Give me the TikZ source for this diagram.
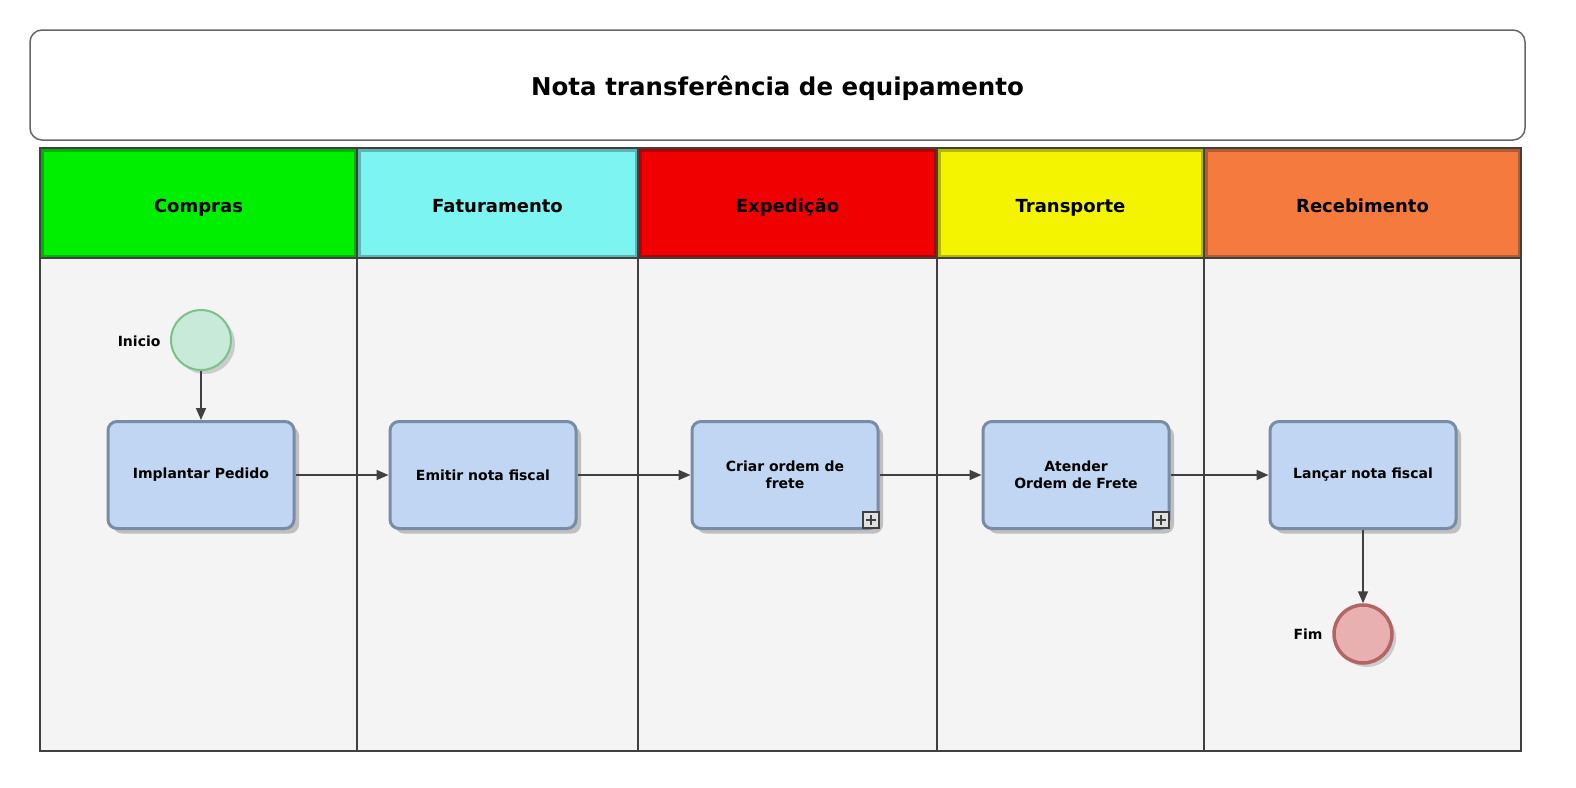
\documentclass[tikz,border=0pt]{standalone}
\usepackage{fontspec}
\setmainfont{DejaVu Sans}
\usetikzlibrary{arrows.meta,shadows}

\definecolor{lanebg}{HTML}{F4F4F4}
\definecolor{linegray}{HTML}{404040}
\definecolor{hdgreen}{HTML}{00EE00}
\definecolor{hdcyan}{HTML}{7CF4F2}
\definecolor{hdred}{HTML}{F00000}
\definecolor{hdyellow}{HTML}{F4F400}
\definecolor{hdorange}{HTML}{F47A3E}
\definecolor{taskfill}{HTML}{C0D6F2}
\definecolor{taskedge}{HTML}{7A8CA4}
\definecolor{startfill}{HTML}{C8EAD8}
\definecolor{startedge}{HTML}{7CC08C}
\definecolor{endfill}{HTML}{E8B0B0}
\definecolor{endedge}{HTML}{B46464}

\tikzset{
  lanehead/.style={draw=linegray,line width=2pt,minimum width=#1,minimum height=110pt,
    font=\bfseries\fontsize{18}{21}\selectfont,inner sep=0pt,text height=23pt,text depth=3.6pt,
    path picture={\draw[black,opacity=0.25,line width=7pt]
      (path picture bounding box.south west) rectangle (path picture bounding box.north east);}},
  task/.style={rounded corners=9pt,fill=taskfill,draw=taskedge,line width=3pt,
    minimum width=186pt,minimum height=107pt,align=center,
    font=\bfseries\fontsize{14}{17}\selectfont,
    drop shadow={shadow xshift=5pt,shadow yshift=-5pt,fill=black!25,opacity=1}},
  startev/.style={circle,fill=startfill,draw=startedge,line width=2pt,minimum size=60pt,
    drop shadow={shadow xshift=4pt,shadow yshift=-4pt,fill=black!20,opacity=1}},
  endev/.style={circle,fill=endfill,draw=endedge,line width=3.5pt,minimum size=58pt,
    drop shadow={shadow xshift=4pt,shadow yshift=-4pt,fill=black!20,opacity=1}},
  evlabel/.style={font=\bfseries\fontsize{14}{16}\selectfont,anchor=east},
  flow/.style={draw=linegray,line width=1.6pt,-{Triangle[length=12pt,width=10pt]}},
  submark/.style={draw=linegray,fill=black!12,line width=1.2pt,minimum size=16pt,inner sep=0pt,
    path picture={\draw[linegray,line width=1.2pt]
      (path picture bounding box.north) ++(0,-3pt) -- ++(0,-10pt)
      (path picture bounding box.west) ++(3pt,0) -- ++(10pt,0);}}
}

\begin{document}
\begin{tikzpicture}[x=1pt,y=-1pt]
\useasboundingbox (0,0) rectangle (1576,787);

% title
\draw[linegray!80,line width=1.5pt,rounded corners=12pt,fill=white] (30,30) rectangle (1525,140);
\node (title) at (777.5,88) {\bfseries\fontsize{24.5}{29}\selectfont Nota transferência de equipamento};

% pool
\draw[linegray,line width=2pt,fill=lanebg] (40,258) rectangle (1521,751);
\foreach \x in {357,638,937,1204}
  \draw[linegray,line width=2pt] (\x,258) -- (\x,751);

% lane headers
\node[lanehead=317pt,fill=hdgreen] (hcom) at (198.5,203) {Compras};
\node[lanehead=281pt,fill=hdcyan] (hfat) at (497.5,203) {Faturamento};
\node[lanehead=299pt,fill=hdred] (hexp) at (787.5,203) {Expedição};
\node[lanehead=267pt,fill=hdyellow] (htra) at (1070.5,203) {Transporte};
\node[lanehead=317pt,fill=hdorange] (hrec) at (1362.5,203) {Recebimento};

% events and tasks
\node[startev] (ini) at (201,340) {};
\node[evlabel] at (164,341) {Inicio};

\node[task] (imp) at (201,475) {Implantar Pedido};
\node[task] (emi) at (483,475) {Emitir nota fiscal};
\node[task] (crf) at (785,475) {Criar ordem de\\frete};
\node[task] (ate) at (1076,475) {Atender\\Ordem de Frete};
\node[task] (lan) at (1363,475) {Lançar nota fiscal};

\node[submark] (mk1) at (871,520) {};
\node[submark] (mk2) at (1161,520) {};

\node[endev] (fim) at (1363,634) {};
\node[evlabel] at (1326,634) {Fim};

% flows
\draw[flow] (ini) -- (imp);
\draw[flow] (imp) -- (emi);
\draw[flow] (emi) -- (crf);
\draw[flow] (crf) -- (ate);
\draw[flow] (ate) -- (lan);
\draw[flow] (lan) -- (fim);
\end{tikzpicture}
\end{document}
